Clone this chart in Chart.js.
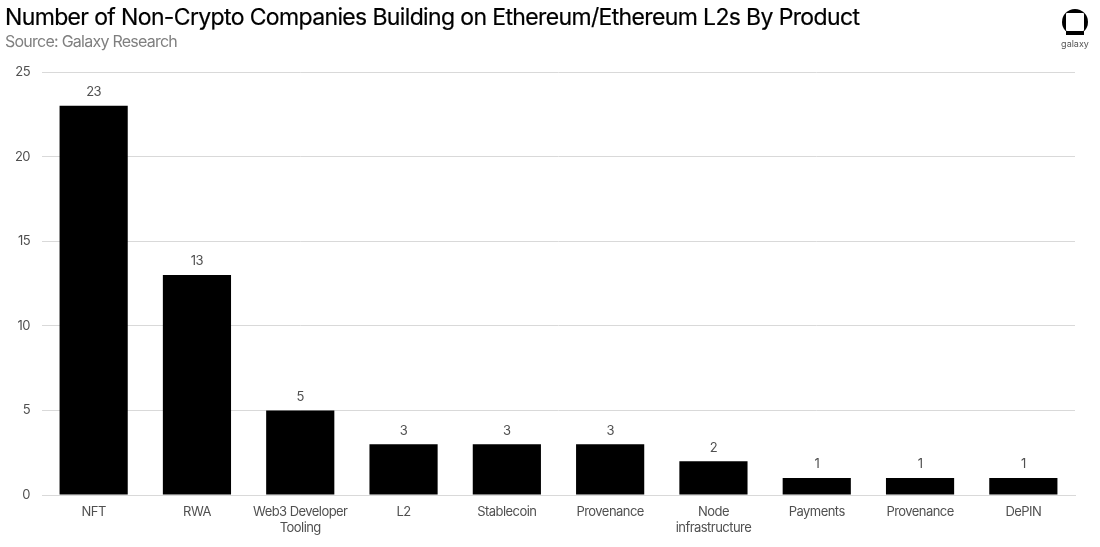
<!DOCTYPE html>
<html>
<head>
<meta charset="utf-8">
<style>
  html, body { margin: 0; padding: 0; background: #fff; }
  #wrap { position: relative; width: 1100px; height: 547px; overflow: hidden; font-family: Inter, sans-serif; }
  #title { position: absolute; left: 5px; top: 3px; font-size: 23px; line-height: 28px; color: #000; letter-spacing: -0.64px; -webkit-text-stroke: 0.2px #000; white-space: nowrap; }
  #source { position: absolute; left: 5px; top: 31px; font-size: 16px; line-height: 20px; color: #7f7f7f; letter-spacing: -0.75px; white-space: nowrap; }
  #logo { position: absolute; left: 1061px; top: 8px; width: 28px; height: 28px; }
  #logoText { position: absolute; left: 1055px; top: 38px; width: 40px; text-align: center; font-size: 9px; line-height: 12px; color: #555; }
</style>
</head>
<body>
<div id="wrap">
  <canvas id="myChart" width="1100" height="547"></canvas>
  <div id="title">Number of Non-Crypto Companies Building on Ethereum/Ethereum L2s By Product</div>
  <div id="source">Source: Galaxy Research</div>
  <svg id="logo" viewBox="0 0 28 28">
    <circle cx="14" cy="14" r="13" fill="#000"/>
    <rect x="0" y="23" width="5" height="5" fill="#fff"/>
    <rect x="23" y="23" width="5" height="5" fill="#fff"/>
    <rect x="5" y="23" width="18" height="4" fill="#000"/>
    <rect x="5" y="5" width="18" height="18" rx="1" fill="#fff"/>
  </svg>
  <div id="logoText">galaxy</div>
</div>
<script src="https://cdn.jsdelivr.net/npm/chart.js@4/dist/chart.umd.min.js"></script>
<script>
// Values
const products = ['NFT', 'RWA', ['Web3 Developer', 'Tooling'], 'L2', 'Stablecoin', 'Provenance',
  ['Node', 'infrastructure'], 'Payments', 'Provenance', 'DePIN'];
const companies = [23, 13, 5, 3, 3, 3, 2, 1, 1, 1];
const yTicks = [0, 5, 10, 15, 20, 25];

const fontName = 'Inter, sans-serif';

// Tighter spacing on all canvas text
const tightText = {
  id: 'tightText',
  beforeDraw(chart) {
    chart.ctx.letterSpacing = '-0.55px';
  }
};

// Number above each bar
const valueLabels = {
  id: 'valueLabels',
  afterDatasetsDraw(chart) {
    const ctx = chart.ctx;
    const bars = chart.getDatasetMeta(0).data;
    ctx.save();
    ctx.font = '13px ' + fontName;
    ctx.fillStyle = '#505050';
    ctx.textAlign = 'center';
    ctx.textBaseline = 'bottom';
    bars.forEach((bar, i) => {
      ctx.fillText(companies[i], bar.x, bar.y - 7);
    });
    ctx.restore();
  }
};

const chartConfig = {
  type: 'bar',
  data: {
    labels: products,
    datasets: [{
      data: companies,
      backgroundColor: '#000',
      categoryPercentage: 1,
      barPercentage: 0.66
    }]
  },
  options: {
    responsive: false,
    animation: false,
    layout: { padding: { top: 72, right: 25, left: 0, bottom: 0 } },
    plugins: {
      legend: { display: false },
      title: { display: false },
      tooltip: { enabled: false }
    },
    scales: {
      x: {
        grid: { display: false, drawTicks: false },
        border: { color: '#d9d9d9', width: 1 },
        ticks: {
          color: '#505050',
          font: { family: fontName, size: 13, lineHeight: 1.25 },
          padding: 9,
          maxRotation: 0,
          autoSkip: false
        },
        afterFit(axis) { axis.height = 52; }
      },
      y: {
        min: 0,
        max: 25,
        afterBuildTicks(axis) { axis.ticks = yTicks.map(v => ({ value: v })); },
        grid: { color: '#d9d9d9', drawTicks: false },
        border: { display: false },
        ticks: {
          color: '#505050',
          font: { family: fontName, size: 13 },
          padding: 12
        },
        afterFit(axis) { axis.width = 42; }
      }
    }
  },
  plugins: [tightText, valueLabels]
};

const myChart = new Chart(document.getElementById('myChart'), chartConfig);
</script>
</body>
</html>
